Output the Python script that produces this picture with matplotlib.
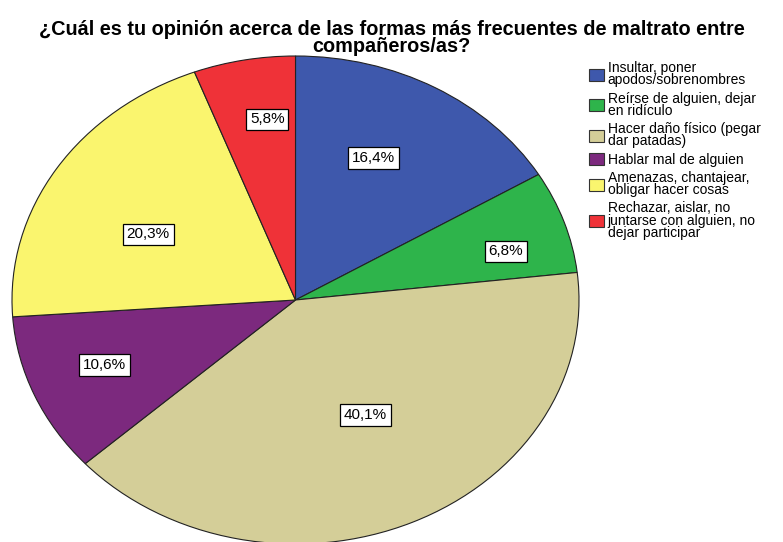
import matplotlib
matplotlib.use("Agg")

import matplotlib.pyplot as plt
import matplotlib.patches as mpatches
import numpy as np

plt.rcParams["font.family"] = ["Liberation Sans", "DejaVu Sans"]

TITLE = "¿Cuál es tu opinión acerca de las formas más frecuentes de maltrato entre\ncompañeros/as?"

categories = [
    "Insultar, poner\napodos/sobrenombres",
    "Reírse de alguien, dejar\nen ridículo",
    "Hacer daño físico (pegar\ndar patadas)",
    "Hablar mal de alguien",
    "Amenazas, chantajear,\nobligar hacer cosas",
    "Rechazar, aislar, no\njuntarse con alguien, no\ndejar participar",
]
percentages = [16.4, 6.8, 40.1, 10.6, 20.3, 5.8]
colors = ["#3E58AC", "#2EB44B", "#D4CE98", "#7C297E", "#FAF56E", "#EF3238"]
# label placement: radius (fraction) and angular nudge (deg) from wedge middle
label_radius = [0.644, 0.768, 0.531, 0.724, 0.585, 0.747]
label_nudge = [4.1, -3.7, 3.3, -1.4, 5.2, -2.8]

fig = plt.figure(figsize=(7.83, 5.42), dpi=100, facecolor="white")

fig.text(0.5, 1 - 20 / 542, TITLE, ha="center", va="top", fontsize=14.3,
         fontweight="bold", linespacing=0.88)

ax = fig.add_axes([12 / 783, -2 / 542, 567 / 783, 488 / 542])
wedges, _ = ax.pie(percentages, colors=colors, startangle=90, counterclock=False,
                   radius=1.0, wedgeprops=dict(edgecolor="#222222", linewidth=0.8))
ax.set_aspect("auto")
ax.set_xlim(-1.0, 1.0)
ax.set_ylim(-1.0, 1.0)
ax.axis("off")

for w, pct, r, nudge in zip(wedges, percentages, label_radius, label_nudge):
    mid = np.deg2rad((w.theta1 + w.theta2) / 2 + nudge)
    ax.text(r * np.cos(mid), r * np.sin(mid), f"{pct:.1f}%".replace(".", ","),
            ha="center", va="center", fontsize=11,
            bbox=dict(boxstyle="square,pad=0.25", facecolor="white",
                      edgecolor="black", linewidth=0.9))

handles = [mpatches.Patch(facecolor=c, edgecolor="#333333", linewidth=0.8)
           for c in colors]
leg = fig.legend(handles, categories, loc="upper left",
                 bbox_to_anchor=(589 / 783, 1 - 61 / 542),
                 frameon=False, fontsize=10, handlelength=1.05, handleheight=0.95,
                 handletextpad=0.3, labelspacing=0.3, borderaxespad=0,
                 borderpad=0)
for t in leg.get_texts():
    t.set_linespacing(0.85)

fig.savefig("out.png", dpi=100, facecolor="white")
